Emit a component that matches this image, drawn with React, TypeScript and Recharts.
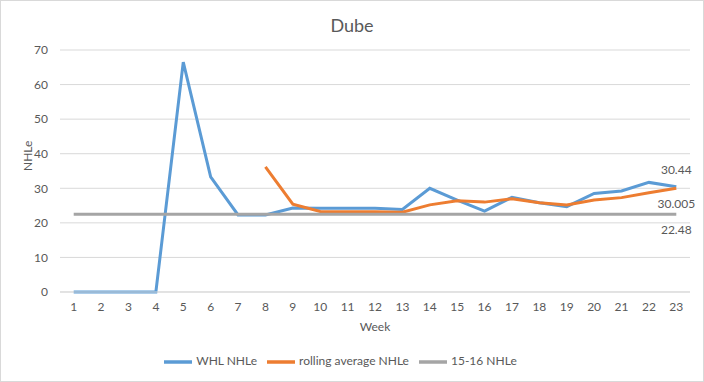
import { LineChart, Line, XAxis, YAxis, CartesianGrid, Legend } from "recharts"

const weeks = ["1", "2", "3", "4", "5", "6", "7", "8", "9", "10", "11", "12", "13", "14", "15", "16", "17", "18", "19", "20", "21", "22", "23"]
const whlNhle = [0, 0, 0, 0, 66.5, 33.3, 22.3, 22.3, 24.3, 24.2, 24.2, 24.2, 23.9, 30.0, 26.6, 23.4, 27.4, 25.8, 24.7, 28.5, 29.2, 31.7, 30.44]
const rollingAvg = [null, null, null, null, null, null, null, 36.2, 25.4, 23.3, 23.2, 23.2, 23.1, 25.2, 26.4, 26.0, 27.0, 25.8, 25.2, 26.6, 27.3, 28.7, 30.005]
const prevSeason = [22.48, 22.48, 22.48, 22.48, 22.48, 22.48, 22.48, 22.48, 22.48, 22.48, 22.48, 22.48, 22.48, 22.48, 22.48, 22.48, 22.48, 22.48, 22.48, 22.48, 22.48, 22.48, 22.48]
const yTicks = [0, 10, 20, 30, 40, 50, 60, 70]
const seriesNames = ["WHL NHLe", "rolling average NHLe", "15-16 NHLe"]

const data = weeks.map((w, i) => ({
  week: w,
  whl: whlNhle[i],
  rolling: rollingAvg[i],
  prev: prevSeason[i],
}))

const FONT = "Lato, 'Open Sans', sans-serif"
const TXT = "#595959"

// only the last point of each series gets a data label
const lastLabel = (dy: number) => (props: any) => {
  if (props.index !== weeks.length - 1) return null
  return (
    <text x={props.x} y={props.y + dy} textAnchor="middle" dominantBaseline="central" fill={TXT} fontSize={12} fontFamily={FONT}>
      {props.value}
    </text>
  )
}

export default function App() {
  return (
    <div style={{ position: "fixed", left: 0, top: 0, width: 704, height: 382, background: "#fff", boxSizing: "border-box", border: "1px solid #d9d9d9" }}>
      <div style={{ position: "absolute", top: 13, width: "100%", textAlign: "center", fontFamily: FONT, fontSize: 18, color: TXT }}>Dube</div>
      <LineChart
        width={702}
        height={380}
        data={data}
        margin={{ top: 49, right: 13, left: 0, bottom: 8 }}
        style={{ fontFamily: FONT }}
      >
        <CartesianGrid vertical={false} stroke="#d9d9d9" />
        <XAxis
          dataKey="week"
          padding={{ left: 13.7, right: 13.7 }}
          tickLine={false}
          axisLine={{ stroke: "#d9d9d9" }}
          tick={{ fill: TXT, fontSize: 12 }}
          tickMargin={4}
          interval={0}
          height={44}
          label={{ value: "Week", position: "insideBottom", offset: 5, fill: TXT, fontSize: 12 }}
        />
        <YAxis
          domain={[0, 70]}
          ticks={yTicks}
          axisLine={false}
          tickLine={false}
          tick={{ fill: TXT, fontSize: 12 }}
          width={59}
          tickMargin={6}
          label={{ value: "NHLe", angle: -90, position: "insideLeft", offset: 27, fill: TXT, fontSize: 12 }}
        />
        <Legend
          verticalAlign="bottom"
          iconType="plainline"
          iconSize={28}
          height={25}
          itemSorter={(item: any) => seriesNames.indexOf(item.value)}
          wrapperStyle={{ fontSize: 12, paddingTop: 12 }}
          formatter={(v: string) => <span style={{ color: TXT }}>{v}</span>}
        />
        <Line dataKey="whl" name={seriesNames[0]} stroke="#5B9BD5" strokeWidth={3} dot={false} isAnimationActive={false} label={lastLabel(-17)} />
        <Line dataKey="rolling" name={seriesNames[1]} stroke="#ED7D31" strokeWidth={3} dot={false} isAnimationActive={false} label={lastLabel(15)} />
        <Line dataKey="prev" name={seriesNames[2]} stroke="#A5A5A5" strokeWidth={3} dot={false} isAnimationActive={false} label={lastLabel(15)} />
      </LineChart>
    </div>
  )
}
